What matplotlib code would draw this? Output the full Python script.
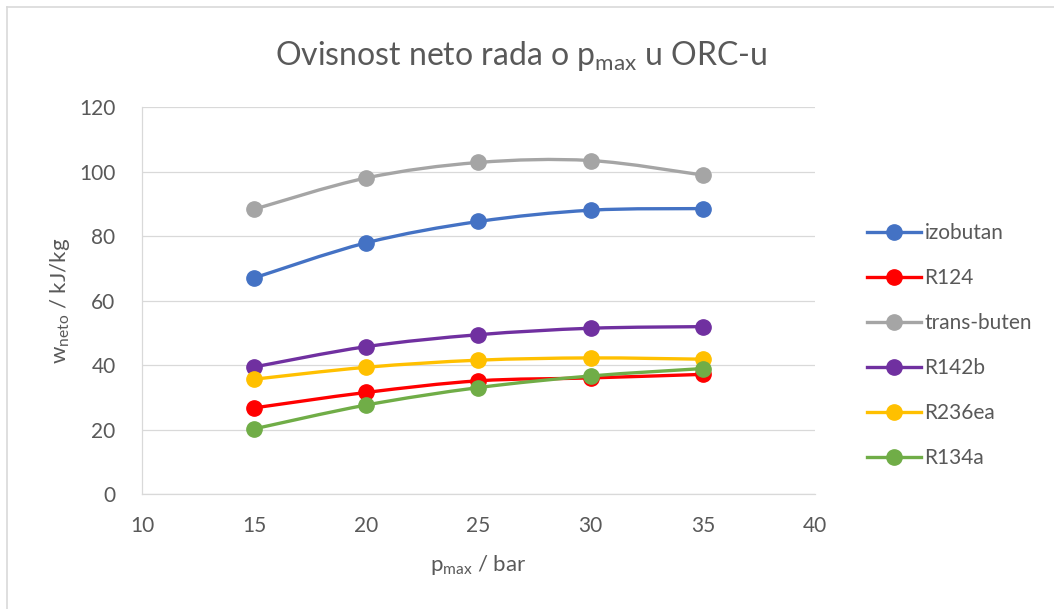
# Ovisnost neto rada o p_max u ORC-u
import numpy as np
import matplotlib.pyplot as plt
from matplotlib.path import Path
from matplotlib.patches import PathPatch
from matplotlib.lines import Line2D


# Data
p_max = [15, 20, 25, 30, 35]
izobutan = [67.0, 77.9, 84.5, 88.0, 88.5]
r124 = [26.7, 31.5, 35.1, 36.0, 37.1]
trans_buten = [88.3, 98.0, 102.8, 103.4, 98.9]
r142b = [39.4, 45.7, 49.4, 51.4, 51.9]
r236ea = [35.6, 39.3, 41.5, 42.2, 41.8]
r134a = [20.2, 27.6, 33.0, 36.6, 38.9]

names = ['izobutan', 'R124', 'trans-buten', 'R142b', 'R236ea', 'R134a']
series = [izobutan, r124, trans_buten, r142b, r236ea, r134a]
colors = ['#4472C4', '#FF0000', '#A5A5A5', '#7030A0', '#FFC000', '#70AD47']


# Smoothed line as Bezier path (like Excel "smoothed line")
def smoothPath(x, y):
    pts = np.column_stack([x, y]).astype(float)
    n = len(pts)
    verts = [pts[0]]
    codes = [Path.MOVETO]
    for i in range(n - 1):
        p0 = pts[max(i - 1, 0)]
        p1 = pts[i]
        p2 = pts[i + 1]
        p3 = pts[min(i + 2, n - 1)]
        c1 = p1 + (p2 - p0) / 6.0
        c2 = p2 - (p3 - p1) / 6.0
        verts += [c1, c2, p2]
        codes += [Path.CURVE4] * 3
    return Path(verts, codes)


plt.rcParams['font.family'] = ['Lato', 'DejaVu Sans']
plt.rcParams['mathtext.default'] = 'regular'
txt = '#595959'

fig = plt.figure(figsize=(10.54, 6.09), dpi=100)
ax = fig.add_axes([0.1347, 0.1888, 0.7732 - 0.1347, 0.8243 - 0.1888])

handles = []
for k in range(len(series)):
    patch = PathPatch(smoothPath(p_max, series[k]), facecolor='none',
                      edgecolor=colors[k], lw=2.4, capstyle='round',
                      zorder=3 + 2 * k)
    ax.add_patch(patch)
    ax.plot(p_max, series[k], 'o', color=colors[k], markersize=11,
            zorder=4 + 2 * k)
    handles.append(Line2D([], [], color=colors[k], lw=2.4, marker='o',
                          markersize=11))

ax.set_xlim(10, 40)
ax.set_ylim(0, 120)
ax.set_xticks(range(10, 41, 5))
ax.set_yticks(range(0, 121, 20))
ax.grid(axis='y', color='#D9D9D9', lw=0.9)
ax.set_axisbelow(True)
for s in ['top', 'right']:
    ax.spines[s].set_visible(False)
for s in ['left', 'bottom']:
    ax.spines[s].set_color('#D9D9D9')
    ax.spines[s].set_linewidth(0.9)
ax.tick_params(axis='x', length=0, labelsize=15, labelcolor=txt, pad=16)
ax.tick_params(axis='y', length=0, labelsize=15, labelcolor=txt, pad=19)

ax.set_xlabel('p$_{max}$ / bar', fontsize=16, color=txt, labelpad=12)
ax.set_ylabel('w$_{neto}$ / kJ/kg', fontsize=16, color=txt)
ax.yaxis.set_label_coords(-0.104, 0.5)

fig.text(0.494, 0.893, 'Ovisnost neto rada o p$_{max}$ u ORC-u',
         fontsize=23, color=txt, ha='center', va='baseline')

leg = fig.legend(handles, names, loc='center left',
                 bbox_to_anchor=(0.805, 0.433), frameon=False,
                 fontsize=15, handlelength=2.6, labelspacing=1.2,
                 handletextpad=0.15)
for t in leg.get_texts():
    t.set_color(txt)

# chart area border
fig.add_artist(Line2D([0.0071, 1.0], [0.9877, 0.9877], color='#D9D9D9',
                      lw=1.2, transform=fig.transFigure))
fig.add_artist(Line2D([0.0071, 0.0071], [0.0, 0.9877], color='#D9D9D9',
                      lw=1.2, transform=fig.transFigure))

plt.savefig('out.png', dpi=100)
